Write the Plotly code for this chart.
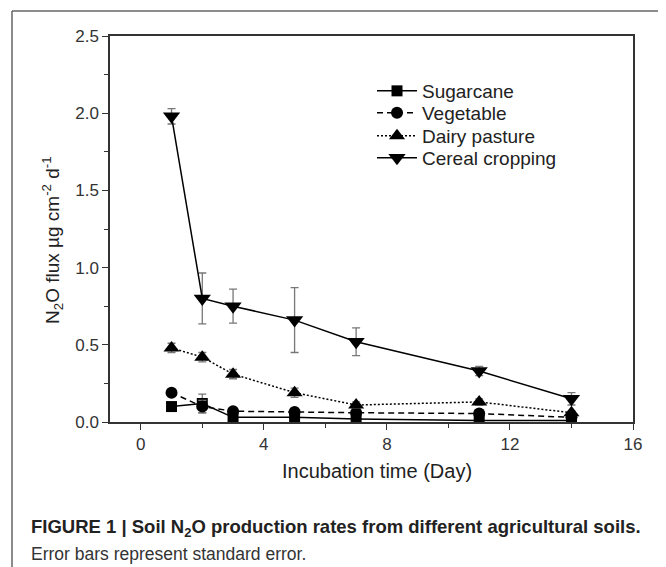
import plotly.graph_objects as go

days = [1, 2, 3, 5, 7, 11, 14]
sugarcane = [0.10, 0.12, 0.03, 0.03, 0.02, 0.01, 0.01]
sugarcane_err = [0.01, 0.06, 0.01, 0.01, 0.005, 0.005, 0.005]
vegetable = [0.19, 0.10, 0.07, 0.065, 0.06, 0.055, 0.03]
vegetable_err = [0.01, 0.04, 0.01, 0.01, 0.005, 0.005, 0.005]
dairy = [0.48, 0.42, 0.31, 0.19, 0.11, 0.13, 0.06]
dairy_err = [0.03, 0.03, 0.03, 0.03, 0.02, 0.02, 0.01]
cereal = [1.98, 0.80, 0.75, 0.66, 0.52, 0.33, 0.15]
cereal_err = [0.05, 0.165, 0.11, 0.21, 0.09, 0.03, 0.04]

x_ticks = [0, 4, 8, 12, 16]
y_ticks = [0, 0.5, 1.0, 1.5, 2.0, 2.5]
y_tick_labels = ["0.0", "0.5", "1.0", "1.5", "2.0", "2.5"]

series = [
    ("Sugarcane", sugarcane, sugarcane_err, "solid", "square", 11, "legend"),
    ("Vegetable", vegetable, vegetable_err, "6px,4px", "circle", 12, "legend2"),
    ("Dairy pasture", dairy, dairy_err, "2px,2px", "triangle-up", 14, "legend3"),
    ("Cereal cropping", cereal, cereal_err, "solid", "triangle-down", 15, "legend4"),
]

fig = go.Figure()
for name, vals, errs, dash, sym, size, leg in series:
    fig.add_trace(go.Scatter(
        x=days, y=vals, name=name, mode="lines+markers", legend=leg,
        line=dict(color="black", width=1.5, dash=dash),
        marker=dict(symbol=sym, size=size, color="black"),
        error_y=dict(type="data", array=errs, visible=True,
                     color="#777777", thickness=1.3, width=4),
    ))

font_main = "Liberation Sans, Arial, sans-serif"
narrow = "Liberation Sans Narrow, Arial Narrow, Liberation Sans, sans-serif"

# page body has an 8px margin: figure is sized so that it fills the 666x567 window
W, H = 658, 559
L, R, T, B = 102, 33, 28, 145


def px(sx):  # screen x -> paper x
    return (sx - 110) / 523


def py(sy):  # screen y -> paper y
    return (422 - sy) / 386


legend_ys = [91, 113, 136, 158]
leg_common = dict(xanchor="left", yanchor="middle", font=dict(size=19, color="#222222"),
                  bgcolor="rgba(0,0,0,0)", itemwidth=40)
legends = {}
for i, key in enumerate(["legend", "legend2", "legend3", "legend4"]):
    legends[key] = dict(x=px(372), y=py(legend_ys[i]), **leg_common)

fig.update_layout(
    width=W, height=H,
    margin=dict(l=L, r=R, t=T, b=B),
    paper_bgcolor="white", plot_bgcolor="white",
    font=dict(family=font_main, color="#222222"),
    showlegend=True,
    **legends,
    xaxis=dict(range=[-1, 16], tickvals=x_ticks,
               ticks="outside", ticklen=6, tickwidth=1.3, tickcolor="#333",
               showline=True, linecolor="#333", linewidth=1.5, mirror=True,
               showgrid=False, zeroline=False,
               tickfont=dict(size=17, color="#333"),
               minor=dict(ticks="outside", ticklen=4, tickwidth=1.3,
                          tickcolor="#333", tickvals=[2, 6, 10, 14])),
    yaxis=dict(range=[0, 2.5], tickvals=y_ticks, ticktext=y_tick_labels,
               ticks="outside", ticklen=6, tickwidth=1.3, tickcolor="#333",
               showline=True, linecolor="#333", linewidth=1.5, mirror=True,
               showgrid=False, zeroline=False,
               tickfont=dict(size=17, color="#333"),
               minor=dict(ticks="outside", ticklen=4, tickwidth=1.3,
                          tickcolor="#333", tickvals=[0.25, 0.75, 1.25, 1.75, 2.25])),
)

annotations = [
    dict(text="Incubation time (Day)", x=px(376.5), y=py(471), xref="paper", yref="paper",
         xanchor="center", yanchor="middle", showarrow=False,
         font=dict(size=20, color="#222")),
    dict(text="N<sub>2</sub>O flux µg cm<sup>-2</sup> d<sup>-1</sup>", x=px(52), y=py(240),
         xref="paper", yref="paper", textangle=-90, xanchor="center", yanchor="middle",
         showarrow=False, font=dict(size=19, color="#222")),
    dict(text="<b>FIGURE 1 | Soil N<sub>2</sub>O production rates from different agricultural soils.</b>",
         x=px(29), y=py(528), xref="paper", yref="paper", xanchor="left", yanchor="middle",
         showarrow=False, font=dict(size=18.5, color="#222", family=narrow)),
    dict(text="Error bars represent standard error.",
         x=px(29), y=py(554), xref="paper", yref="paper", xanchor="left", yanchor="middle",
         showarrow=False, font=dict(size=17.5, color="#333", family=narrow)),
]
fig.update_layout(annotations=annotations)

# outer figure frame (top and left edges)
fig.add_shape(type="line", xref="paper", yref="paper", x0=px(12), x1=px(680), y0=py(11), y1=py(11),
              line=dict(color="#666", width=1.5))
fig.add_shape(type="line", xref="paper", yref="paper", x0=px(12), x1=px(12), y0=py(11), y1=py(580),
              line=dict(color="#666", width=1.5))

fig.write_html("out.html")
